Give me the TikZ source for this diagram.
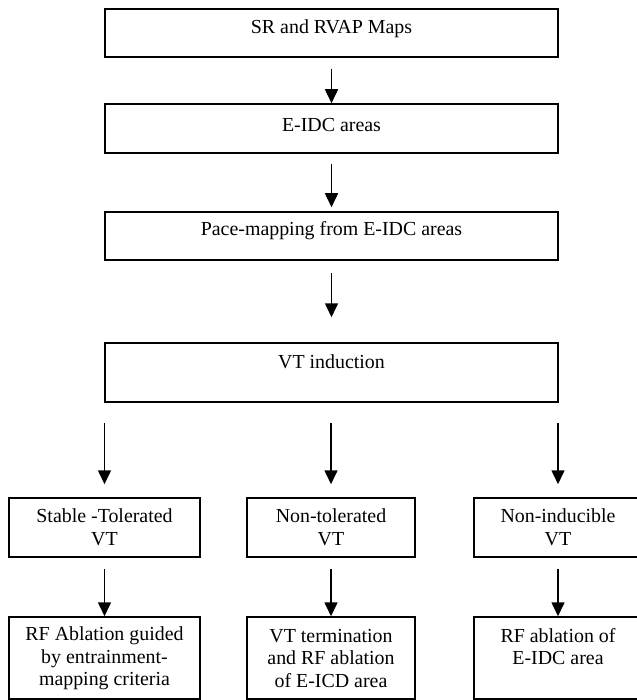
\documentclass[tikz,border=0pt]{standalone}
\usepackage{fontspec}
\setmainfont{Liberation Serif}
\usetikzlibrary{arrows.meta}
\begin{document}
\begin{tikzpicture}[x=1pt,y=-1pt,
  box/.style={draw, line width=1.5pt, inner sep=0pt},
  lbl/.style={font=\fontsize{19.9}{22.5}\selectfont, align=center, inner sep=0pt},
  arr/.style={line width=1.6pt, -{Triangle[width=13pt,length=14pt]}}]
\useasboundingbox (0,0) rectangle (636,700);
% boxes
\node[box, minimum width=453pt, minimum height=48pt] (b1) at (331.5,33) {};
\node[box, minimum width=453pt, minimum height=49pt] (b2) at (331.5,128.5) {};
\node[box, minimum width=453pt, minimum height=48pt] (b3) at (331.5,236) {};
\node[box, minimum width=453pt, minimum height=59pt] (b4) at (331.5,372.5) {};
\node[box, minimum width=191pt, minimum height=59pt] (b5a) at (104.5,527.5) {};
\node[box, minimum width=168pt, minimum height=59pt] (b5b) at (331,527.5) {};
\node[box, minimum width=168pt, minimum height=59pt] (b5c) at (558,527.5) {};
\node[box, minimum width=191pt, minimum height=82pt] (b6a) at (104.5,658) {};
\node[box, minimum width=168pt, minimum height=82pt] (b6b) at (331,658) {};
\node[box, minimum width=168pt, minimum height=82pt] (b6c) at (558,658) {};
% texts
\node[lbl] (t1) at (331.5,29) {SR and RVAP Maps};
\node[lbl] (t2) at (331.5,125) {E-IDC areas};
\node[lbl] (t3) at (331.5,231) {Pace-mapping from E-IDC areas};
\node[lbl] (t4) at (331.5,362) {VT induction};
\node[lbl] (t5a) at (104.5,527) {Stable -Tolerated\\VT};
\node[lbl] (t5b) at (331,527) {Non-tolerated\\VT};
\node[lbl] (t5c) at (558,527) {Non-inducible\\VT};
\node[lbl] (t6a) at (104.5,658.5) {RF Ablation guided\\by entrainment-\\mapping criteria};
\node[lbl] (t6b) at (331,658.5) {VT termination\\and RF ablation\\of E-ICD area};
\node[lbl] (t6c) at (558,646.5) {RF ablation of\\E-IDC area};
% arrows
\draw[arr] ([yshift=-11pt]b1.south) -- (b2.north);
\draw[arr] ([yshift=-10pt]b2.south) -- ([yshift=4pt]b3.north);
\draw[arr] ([yshift=-12pt]b3.south) -- ([yshift=25pt]b4.north);
\draw[arr] ([yshift=74pt]b5a.north) -- ([yshift=13pt]b5a.north);
\draw[arr] ([yshift=74pt]b5b.north) -- ([yshift=13pt]b5b.north);
\draw[arr] ([yshift=74pt]b5c.north) -- ([yshift=13pt]b5c.north);
\draw[arr] ([yshift=-11pt]b5a.south) -- (b6a.north);
\draw[arr] ([yshift=-11pt]b5b.south) -- (b6b.north);
\draw[arr] ([yshift=-11pt]b5c.south) -- (b6c.north);
\end{tikzpicture}
\end{document}
